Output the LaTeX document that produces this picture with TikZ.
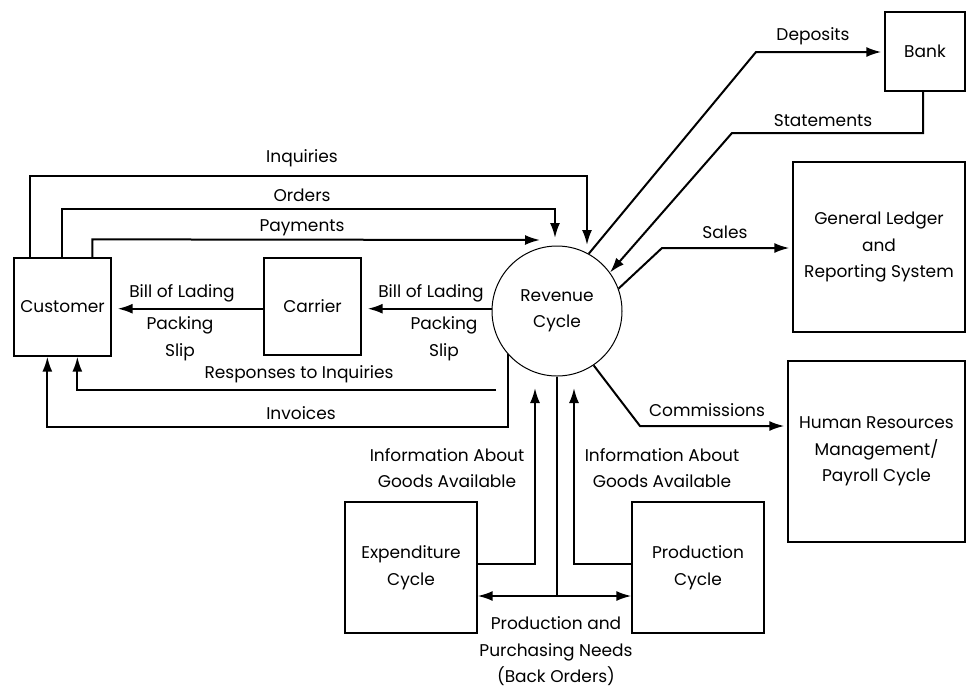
\documentclass[tikz,border=0pt]{standalone}
\usepackage{fontspec}
\setmainfont{Poppins}
\usetikzlibrary{arrows.meta}
\begin{document}
\begin{tikzpicture}[x=1pt,y=-1pt,
  every node/.style={font=\fontsize{17}{26.5}\selectfont},
  box/.style={draw, line width=1.3pt, inner sep=0pt, align=center},
  proc/.style={draw, circle, line width=1pt, inner sep=0pt, align=center, minimum size=130pt},
  flow/.style={line width=2pt, -{Latex[length=15pt,width=10pt]}},
  link/.style={line width=2pt},
  lbl/.style={inner sep=0pt, align=center},
]
\useasboundingbox[fill=white] (0,0) rectangle (967,689);

% entities and the revenue cycle process
\node[proc] (rc) at (557,311) {Revenue\\Cycle};
\node[box, minimum width=97pt, minimum height=98pt] (cust) at (62.5,307) {Customer};
\node[box, minimum width=97pt, minimum height=97pt] (car) at (312.5,306.5) {Carrier};
\node[box, minimum width=80pt, minimum height=79pt] (bank) at (925,51.5) {Bank};
\node[box, minimum width=172pt, minimum height=170pt] (gl) at (879,247) {General Ledger\\and\\Reporting System};
\node[box, minimum width=177pt, minimum height=181pt] (hr) at (876.5,451.5) {Human Resources\\Management/\\Payroll Cycle};
\node[box, minimum width=132pt, minimum height=131pt] (exp) at (411,567.5) {Expenditure\\Cycle};
\node[box, minimum width=132pt, minimum height=131pt] (prod) at (698,567.5) {Production\\Cycle};

% free ends of flows
\coordinate (iqend) at (587,245);
\coordinate (ordend) at (555,238);
\coordinate (payend) at (540,240);
\coordinate (resp) at (496,390);
\coordinate (dk) at (756,52);
\coordinate (sk) at (662,248);
\coordinate (ck) at (640,426);
\coordinate (st) at (732,133);
\coordinate (infl) at (535,388);
\coordinate (infr) at (574,388);

% customer to revenue cycle
\draw[flow] ([xshift=17pt]cust.north west) -- ++(0,-81) -| (iqend);
\draw[flow] ([xshift=49pt]cust.north west) -- ++(0,-48) -| (ordend);
\draw[flow] ([xshift=79pt]cust.north west) -- ++(0,-18) -- (payend);

% shipping documents
\draw[flow, shorten >=6pt] (rc.178) -- (car.east |- rc.178);
\draw[flow, shorten >=6pt] (car.west |- rc.178) -- (cust.east |- rc.178);

% revenue cycle back to customer
\draw[flow] (resp) -| ([xshift=64pt]cust.south west);
\draw[flow] (rc.221) -- (rc.221 |- 0,427) -| ([xshift=34pt]cust.south west);

% bank, general ledger, payroll
\draw[flow, shorten >=3pt] (rc.61) -- (dk) -- (bank.west |- dk);
\draw[flow] ([xshift=-2pt]bank.south) |- (st) -- (rc.36);
\draw[flow, shorten >=3pt] (rc.20) -- (sk) -- (gl.west |- sk);
\draw[flow, shorten >=3pt] (rc.-56) -- (ck) -- (hr.west |- ck);

% expenditure and production cycles
\draw[flow] ([yshift=3.5pt]exp.east) -| (infl);
\draw[flow] ([yshift=3.5pt]prod.west) -| (infr);
\draw[link] (rc.south) -- (rc.south |- 0,596) coordinate (nj);
\draw[flow] (nj) -- (exp.east |- nj);
\draw[flow] (nj) -- (prod.west |- nj);

% flow labels
\node[lbl] (l-iq) at (302,158) {Inquiries};
\node[lbl] (l-ord) at (302,195) {Orders};
\node[lbl] (l-pay) at (302,228) {Payments};
\node[lbl] (l-bl1) at (431,293) {Bill of Lading};
\node[lbl] (l-ps1) at (444,338.5) {Packing\\Slip};
\node[lbl] (l-bl2) at (182,293) {Bill of Lading};
\node[lbl] (l-ps2) at (180,338.5) {Packing\\Slip};
\node[lbl] (l-resp) at (299,374) {Responses to Inquiries};
\node[lbl] (l-inv) at (301,413) {Invoices};
\node[lbl] (l-dep) at (813,36) {Deposits};
\node[lbl] (l-st) at (823,121) {Statements};
\node[lbl] (l-sal) at (725,232) {Sales};
\node[lbl] (l-com) at (707,410) {Commissions};
\node[lbl] (l-infl) at (447,468) {Information About\\Goods Available};
\node[lbl] (l-infr) at (662,468) {Information About\\Goods Available};
\node[lbl] (l-need) at (556,651.5) {Production and\\Purchasing Needs\\(Back Orders)};
\end{tikzpicture}
\end{document}
